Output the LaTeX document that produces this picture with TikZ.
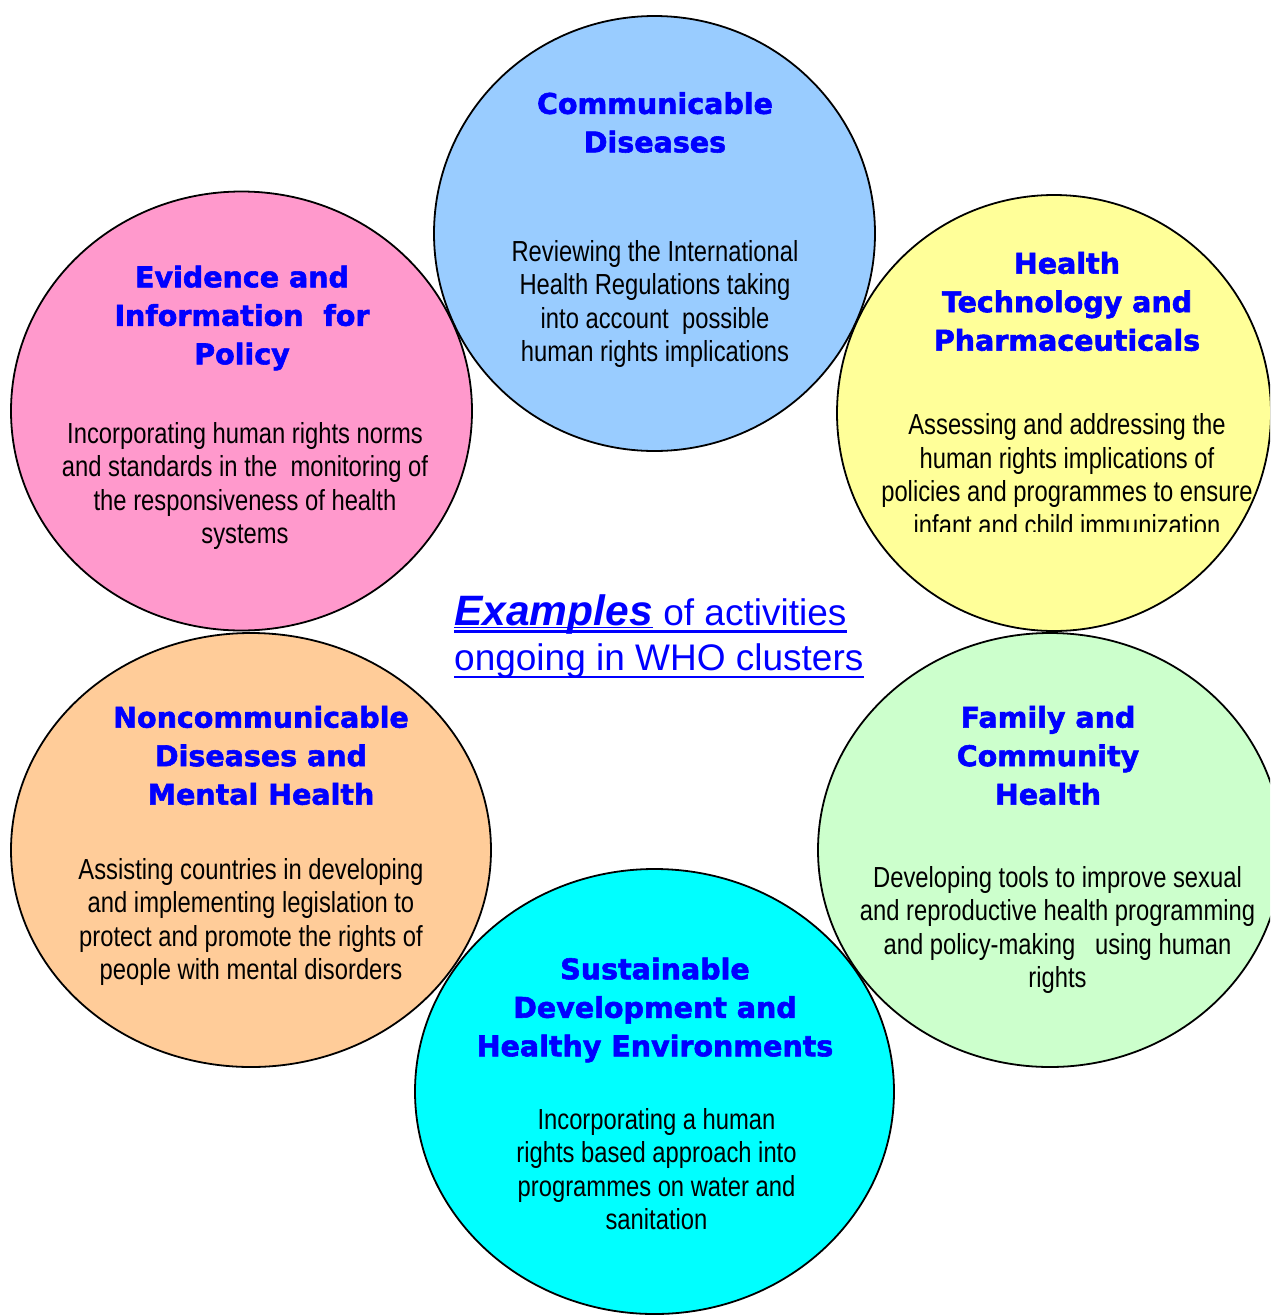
\documentclass[tikz,border=0pt]{standalone}
\usepackage{fontspec}
\usetikzlibrary{shapes.geometric}
\newfontfamily\titlefont{DejaVu Sans}[BoldFeatures={FakeBold=2}]
\newfontfamily\bodyfont{Liberation Sans}[FakeStretch=0.82]
\newfontfamily\mainsans{Liberation Sans}
\definecolor{cdblue}{HTML}{99CCFF}
\definecolor{evpink}{HTML}{FF99CC}
\definecolor{htyellow}{HTML}{FFFF99}
\definecolor{fcgreen}{HTML}{CCFFCC}
\definecolor{ncorange}{HTML}{FFCC99}
\definecolor{sdcyan}{HTML}{00FFFF}
\definecolor{tblue}{HTML}{0000FF}
\begin{document}
\begin{tikzpicture}[x=1pt,y=-1pt,
  bubble/.style={ellipse, draw=black, line width=1.8pt, inner sep=0pt},
  ttl/.style={text=tblue, align=center, inner sep=0pt,
    font=\titlefont\bfseries\fontsize{28.5}{38.5}\selectfont},
  bodytext/.style={text=black, align=center, inner sep=0pt,
    font=\bodyfont\fontsize{29}{33.5}\selectfont},
  captext/.style={text=tblue, inner sep=0pt, anchor=base west,
    font=\mainsans\fontsize{37}{44}\selectfont},
  uline/.style={draw=tblue, line width=2.4pt}]
\useasboundingbox (0,0) rectangle (1270,1315);
\clip (0,0) rectangle (1270,1315);
\fill[white] (0,0) rectangle (1270,1315);

% circles
\node[bubble, fill=cdblue, minimum width=441pt, minimum height=435pt] (cd) at (654.5,233.5) {};
\node[bubble, fill=evpink, minimum width=461pt, minimum height=439pt] (ev) at (241.5,411) {};
\node[bubble, fill=htyellow, minimum width=434pt, minimum height=436pt] (ht) at (1054,413) {};
\node[bubble, fill=ncorange, minimum width=480pt, minimum height=434pt] (nc) at (251,850) {};
\node[bubble, fill=fcgreen, minimum width=464pt, minimum height=434pt] (fc) at (1050,850) {};
\node[bubble, fill=sdcyan, minimum width=479pt, minimum height=445pt] (sd) at (654.5,1091.5) {};

% titles
\node[ttl] (cdt) at (655,122.5) {Communicable\\Diseases};
\node[ttl] (evt) at (242,318) {Evidence and\\Information\ \ for\\Policy};
\node[ttl] (htt) at (1067,301.5) {Health\\Technology and\\Pharmaceuticals};
\node[ttl] (fct) at (1048,755.5) {Family and\\Community\\Health};
\node[ttl] (nct) at (261,755.5) {Noncommunicable\\Diseases and\\Mental Health};
\node[ttl] (sdt) at (655,1010) {Sustainable\\Development and\\Healthy Environments};

% bodies
\node[bodytext] (cdb) at (655,304) {Reviewing the International\\Health Regulations taking\\into account\ \ possible\\human rights implications};
\node[bodytext] (evb) at (245,486) {Incorporating human rights norms\\and standards in the\ \ monitoring of\\the responsiveness of health\\systems};
\begin{scope}
\clip (800,380) rectangle (1270,531);
\node[bodytext] (htb) at (1067,474.5) {Assessing and addressing the\\human rights implications of\\policies and programmes to ensure\\infant and child immunization};
\end{scope}
\node[bodytext] (fcb) at (1057.5,930) {Developing tools to improve sexual\\and reproductive health programming\\and policy-making\ \ \ using human\\rights};
\node[bodytext] (ncb) at (251,922) {Assisting countries in developing\\and implementing legislation to\\protect and promote the rights of\\people with mental disorders};
\node[bodytext] (sdb) at (656.5,1169) {Incorporating a human\\rights based approach into\\programmes on water and\\sanitation};

% centre caption
\node[captext, font=\mainsans\bfseries\itshape\fontsize{42.5}{44}\selectfont] (capa) at (454,625) {Examples};
\node[captext] (capb) at ([xshift=10.3pt]capa.base east) {of activities};
\node[captext] (capc) at (454,670) {ongoing in WHO clusters};
\draw[uline] ([yshift=-6.5pt]capa.base west) -- ([yshift=-6.5pt]capb.base east);
\draw[uline, line width=1.6pt] ([yshift=-2.6pt]capa.base west) -- ([yshift=-2.6pt]capa.base east);
\draw[uline] ([yshift=-7pt]capc.base west) -- ([yshift=-7pt]capc.base east);
\end{tikzpicture}
\end{document}
